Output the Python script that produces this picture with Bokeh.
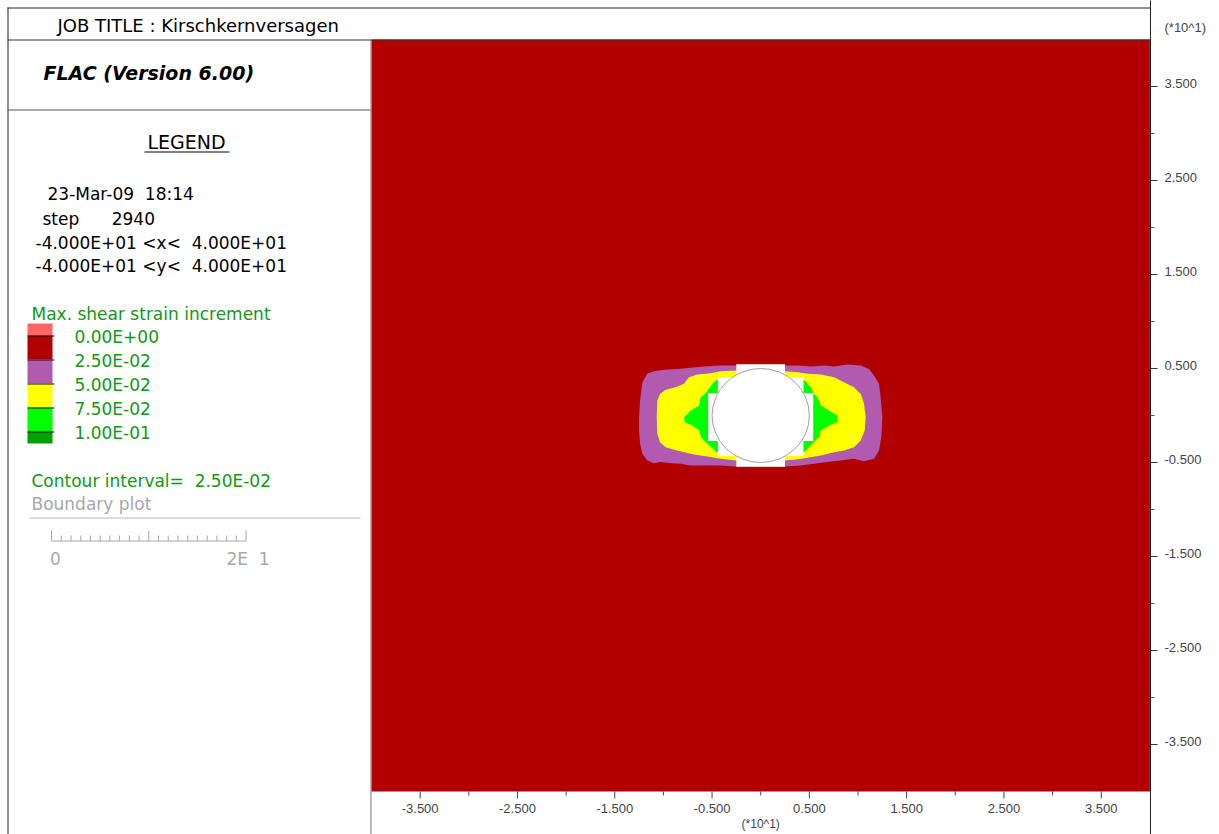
from bokeh.plotting import figure
from bokeh.models import Range1d, FixedTicker, LinearAxis, CustomLabelingPolicy
from bokeh.embed import file_html
from bokeh.resources import INLINE
from bokeh.core.properties import value

# ---------------- data ----------------
job_title = "JOB TITLE : Kirschkernversagen"
program_name = "FLAC (Version 6.00)"
legend_title = "LEGEND"
info_lines = ["23-Mar-09\u00a0\u00a018:14",
              "step\u00a0\u00a0\u00a0\u00a0\u00a0\u00a02940",
              "-4.000E+01 <x<\u00a0\u00a04.000E+01",
              "-4.000E+01 <y<\u00a0\u00a04.000E+01"]
quantity_name = "Max. shear strain increment"
level_labels = ["0.00E+00", "2.50E-02", "5.00E-02", "7.50E-02", "1.00E-01"]
band_colors = ["#FF6666", "#B20000", "#B05AB0", "#FFFF00", "#00FF00", "#00A000"]
contour_interval_text = "Contour interval=\u00a0\u00a02.50E-02"
boundary_text = "Boundary plot"
scale_length = 20
scale_labels = ["0", "2E\u00a0\u00a01"]
axis_multiplier = "(*10^1)"
multiplier_y = 41.3   # where the y-axis multiplier note sits (just above the model)

x_limits = [-40, 40]
y_limits = [-40, 40]
major_ticks = [-35, -25, -15, -5, 5, 15, 25, 35]
minor_ticks = [-30, -20, -10, 0, 10, 20, 30]
tick_labels = ["%.3f" % (t / 10) for t in major_ticks]

tunnel_radius = 5.0

# max shear strain increment >= 2.5E-02 (purple band outline)
band_purple_x = [-12.4, -12.16, -11.65, -10.96, -9.94, -8.56, -7.19, -5.83, -4.11, -2.57,
                 2.47, 3.77, 5.14, 6.51, 7.54, 8.91, 10.28, 11.13, 11.65, 12.16, 12.33,
                 12.5, 12.4, 12.16, 11.65, 10.62, 9.59, 8.22, 6.85, 5.48, 4.11, 2.47,
                 -2.57, -4.11, -5.83, -7.19, -8.22, -9.25, -10.28, -10.96, -11.65, -12.16,
                 -12.4, -12.5, -12.5]
band_purple_y = [1.6, 3.55, 4.43, 4.72, 4.86, 4.96, 5.07, 5.21, 5.32, 5.32,
                 5.32, 5.32, 5.21, 5.32, 5.21, 5.43, 5.32, 4.96, 4.26, 3.37, 1.95,
                 -0.18, -2.3, -3.72, -4.61, -4.86, -4.61, -4.79, -4.96, -5.14, -5.32, -5.43,
                 -5.43, -5.32, -5.32, -5.32, -5.14, -5.07, -4.96, -5.07, -4.79, -4.08,
                 -3.01, -1.6, -0.18]
# >= 5.0E-02 (yellow band outline)
band_yellow_x = [-10.69, -10.62, -10.35, -9.76, -8.74, -7.88, -7.37, -6.51, -5.14, -4.11, -2.57,
                 2.47, 3.77, 4.8, 6.17, 7.54, 8.56, 9.59, 10.28, 10.62, 10.79, 10.69, 10.28,
                 9.59, 8.56, 7.54, 6.17, 4.8, 3.43, 2.47,
                 -2.57, -4.11, -5.48, -6.85, -7.88, -8.91, -9.76, -10.35, -10.62]
band_yellow_y = [-0.18, 1.6, 2.3, 2.73, 3.01, 3.37, 4.08, 4.36, 4.5, 4.72, 4.79,
                 4.72, 4.61, 4.43, 4.36, 4.08, 3.55, 3.01, 2.3, 1.24, -0.18, -1.6, -2.66,
                 -3.37, -3.72, -3.9, -4.26, -4.5, -4.72, -4.79,
                 -4.79, -4.61, -4.36, -4.15, -3.9, -3.65, -3.37, -2.84, -1.95]
# >= 7.5E-02 (green band outlines, left and right of the opening)
band_green_left_x = [-4.52, -4.97, -5.65, -6.17, -6.34, -7.19, -7.88, -7.81, -7.02, -6.34,
                     -6.1, -5.48, -4.52, -3.0, -3.0]
band_green_left_y = [3.8, 3.37, 2.37, 1.95, 1.06, 0.53, -0.18, -0.71, -1.06, -1.6,
                     -2.38, -3.01, -3.9, -3.9, 3.8]
band_green_right_x = [4.45, 5.14, 5.48, 5.82, 6.17, 7.02, 7.88, 7.88, 7.02, 6.17,
                      6.0, 5.48, 4.45, 3.0, 3.0]
band_green_right_y = [3.8, 3.01, 2.3, 1.95, 1.06, 0.53, 0.0, -0.71, -1.06, -1.6,
                      -2.3, -2.8, -3.9, -3.9, 3.8]
# null (excavated) zones
null_x = [-2.5, 2.5, 2.5, 4.4, 4.4, 5.4, 5.4, 4.4, 4.4, 2.5, 2.5,
          -2.5, -2.5, -4.4, -4.4, -5.4, -5.4, -4.4, -4.4, -2.5]
null_y = [5.45, 5.45, 4.1, 4.1, 2.4, 2.4, -2.7, -2.7, -4.3, -4.3, -5.45,
          -5.45, -4.3, -4.3, -2.7, -2.7, 2.4, 2.4, 4.1, 4.1]

# ---------------- layout helpers (page pixel -> model coordinates) ----------------
SX = 9.73   # px per model unit, horizontal
SY = 9.4    # px per model unit, vertical
PX_LEFT = 371.0  # page x of x=-40
PY_TOP = 39.0    # page y of y=+40
LABEL_RAISE_PX = 3.0  # FLAC draws the y tick labels with their baseline on the tick


def X(px):
    return x_limits[0] + (px - PX_LEFT) / SX


def Y(py):
    return y_limits[1] - (py - PY_TOP) / SY


FONT = value("DejaVu Sans")
AXFONT = value("Liberation Sans")
GREEN_TXT = "#109A10"
GREY_TXT = "#A8A8A8"
AX_TXT = "#444444"

p = figure(frame_width=1150, frame_height=834,
           x_range=Range1d(X(0), X(1150)), y_range=Range1d(Y(834), Y(0)),
           output_backend="svg", toolbar_location=None,
           x_axis_location=None, y_axis_location="right",
           min_border=0, min_border_right=69)
p.grid.visible = False
p.outline_line_color = None
p.background_fill_color = "white"
p.border_fill_color = "white"

# ----- right axis: axis line and tick marks (real Bokeh axis, labels suppressed) -----
ya = p.yaxis[0]
ya.ticker = FixedTicker(ticks=major_ticks, minor_ticks=minor_ticks)
ya.axis_line_color = "#222222"
ya.major_tick_line_color = "#333333"
ya.minor_tick_line_color = "#555555"
ya.major_tick_out = 7
ya.major_tick_in = 0
ya.minor_tick_out = 4
ya.minor_tick_in = 0
ya.major_label_standoff = 0
ya.major_label_text_font_size = "1px"
ya.major_label_policy = CustomLabelingPolicy(code="return []")

# ----- right axis: tick labels and the multiplier note -----
raise_units = LABEL_RAISE_PX / SY
label_ticks = [round(t + raise_units, 3) for t in major_ticks]
overrides = {t: lab for t, lab in zip(label_ticks, tick_labels)}
overrides[multiplier_y] = axis_multiplier
ya2 = LinearAxis(ticker=FixedTicker(ticks=label_ticks + [multiplier_y], minor_ticks=[]),
                 major_label_overrides=overrides,
                 axis_line_color=None, major_tick_line_color=None, minor_tick_line_color=None,
                 major_tick_out=0, major_tick_in=0, minor_tick_out=0, minor_tick_in=0,
                 major_label_standoff=2, major_label_text_font="Liberation Sans",
                 major_label_text_font_size="13px", major_label_text_color=AX_TXT)
p.add_layout(ya2, "right")

# ----- contour plot -----
p.quad(left=[x_limits[0]], right=[x_limits[1]], bottom=[y_limits[0]], top=[y_limits[1]],
       fill_color=band_colors[1], line_color=None)
p.patch(band_purple_x, band_purple_y, fill_color=band_colors[2], line_color=None)
p.patch(band_yellow_x, band_yellow_y, fill_color=band_colors[3], line_color=None)
p.patch(band_green_left_x, band_green_left_y, fill_color=band_colors[4], line_color=None)
p.patch(band_green_right_x, band_green_right_y, fill_color=band_colors[4], line_color=None)
p.patch(null_x, null_y, fill_color="white", line_color=None)
p.ellipse(x=[0], y=[0], width=[2 * tunnel_radius], height=[2 * tunnel_radius],
          fill_color="white", line_color="#A0A0A0", line_width=1)

# ----- bottom axis (drawn at y = -40) -----
p.segment(x0=major_ticks, y0=[y_limits[0]] * len(major_ticks),
          x1=major_ticks, y1=[Y(798)] * len(major_ticks), line_color=AX_TXT, line_width=1)
p.segment(x0=minor_ticks, y0=[y_limits[0]] * len(minor_ticks),
          x1=minor_ticks, y1=[Y(795)] * len(minor_ticks), line_color=AX_TXT, line_width=1)
p.text(x=major_ticks, y=[Y(808)] * len(major_ticks), text=tick_labels,
       text_font=AXFONT, text_font_size="13px", text_color=AX_TXT,
       text_align="center", text_baseline="middle")
p.text(x=[0], y=[Y(823)], text=[axis_multiplier], text_font=AXFONT,
       text_font_size="12px", text_color=AX_TXT, text_align="center", text_baseline="middle")

# ----- frame lines -----
p.segment(x0=[X(7), X(7.5), X(7), X(7), X(370.5)],
          y0=[Y(7.5), Y(7), Y(39.5), Y(109.5), Y(40)],
          x1=[X(1150), X(7.5), X(1150), X(370), X(370.5)],
          y1=[Y(7.5), Y(834), Y(39.5), Y(109.5), Y(834)],
          line_color=["#222222", "#222222", "#333333", "#555555", "#777777"], line_width=1)

# ----- title block -----
p.text(x=[X(57)], y=[Y(25)], text=[job_title], text_font=FONT, text_font_size="18px",
       text_color="black", text_baseline="middle")
p.text(x=[X(43)], y=[Y(72)], text=[program_name], text_font=FONT, text_font_size="19px",
       text_font_style="bold italic", text_color="black", text_baseline="middle")

# ----- legend -----
p.text(x=[X(186)], y=[Y(141)], text=[legend_title], text_font=FONT, text_font_size="19px",
       text_color="black", text_align="center", text_baseline="middle")
p.segment(x0=[X(144)], y0=[Y(151.5)], x1=[X(229)], y1=[Y(151.5)], line_color="black")
info_x = [X(47), X(42), X(35), X(35)]
info_y = [Y(193), Y(218), Y(242), Y(265)]
p.text(x=info_x, y=info_y, text=info_lines, text_font=FONT, text_font_size="17px",
       text_color="black", text_baseline="middle")

p.text(x=[X(31)], y=[Y(313)], text=[quantity_name], text_font=FONT, text_font_size="17px",
       text_color=GREEN_TXT, text_baseline="middle")
edges = [323] + [335 + 24 * i for i in range(len(level_labels))] + [443]
p.quad(left=[X(27)] * len(band_colors), right=[X(52)] * len(band_colors),
       top=[Y(e) for e in edges[:-1]], bottom=[Y(e) for e in edges[1:]],
       fill_color=band_colors, line_color=None)
p.segment(x0=[X(27)] * len(level_labels), x1=[X(54)] * len(level_labels),
          y0=[Y(e + 0.5) for e in edges[1:-1]], y1=[Y(e + 0.5) for e in edges[1:-1]],
          line_color="#111111", line_width=1)
p.text(x=[X(74)] * len(level_labels), y=[Y(e + 1) for e in edges[1:-1]], text=level_labels,
       text_font=FONT, text_font_size="17px", text_color=GREEN_TXT, text_baseline="middle")

p.text(x=[X(31)], y=[Y(480)], text=[contour_interval_text], text_font=FONT,
       text_font_size="17px", text_color=GREEN_TXT, text_baseline="middle")
p.text(x=[X(31)], y=[Y(503)], text=[boundary_text], text_font=FONT,
       text_font_size="17px", text_color=GREY_TXT, text_baseline="middle")
p.segment(x0=[X(29)], y0=[Y(517.5)], x1=[X(360)], y1=[Y(517.5)], line_color="#B8B8B8")

# scale bar (same scale as model x)
sb0 = X(51)
sb_ticks = [sb0 + i for i in range(scale_length + 1)]
p.segment(x0=[sb0], y0=[Y(540.5)], x1=[sb0 + scale_length], y1=[Y(540.5)], line_color=GREY_TXT)
p.segment(x0=sb_ticks, y0=[Y(540.5)] * len(sb_ticks), x1=sb_ticks,
          y1=[Y(530) if i % 10 == 0 else Y(535) for i in range(len(sb_ticks))],
          line_color=GREY_TXT)
p.text(x=[sb0 + 0.4, sb0 + scale_length + 0.2], y=[Y(558), Y(558)], text=scale_labels,
       text_font=FONT, text_font_size="17px", text_color=GREY_TXT,
       text_align="center", text_baseline="middle")

open("out.html", "w").write(file_html(p, INLINE))
